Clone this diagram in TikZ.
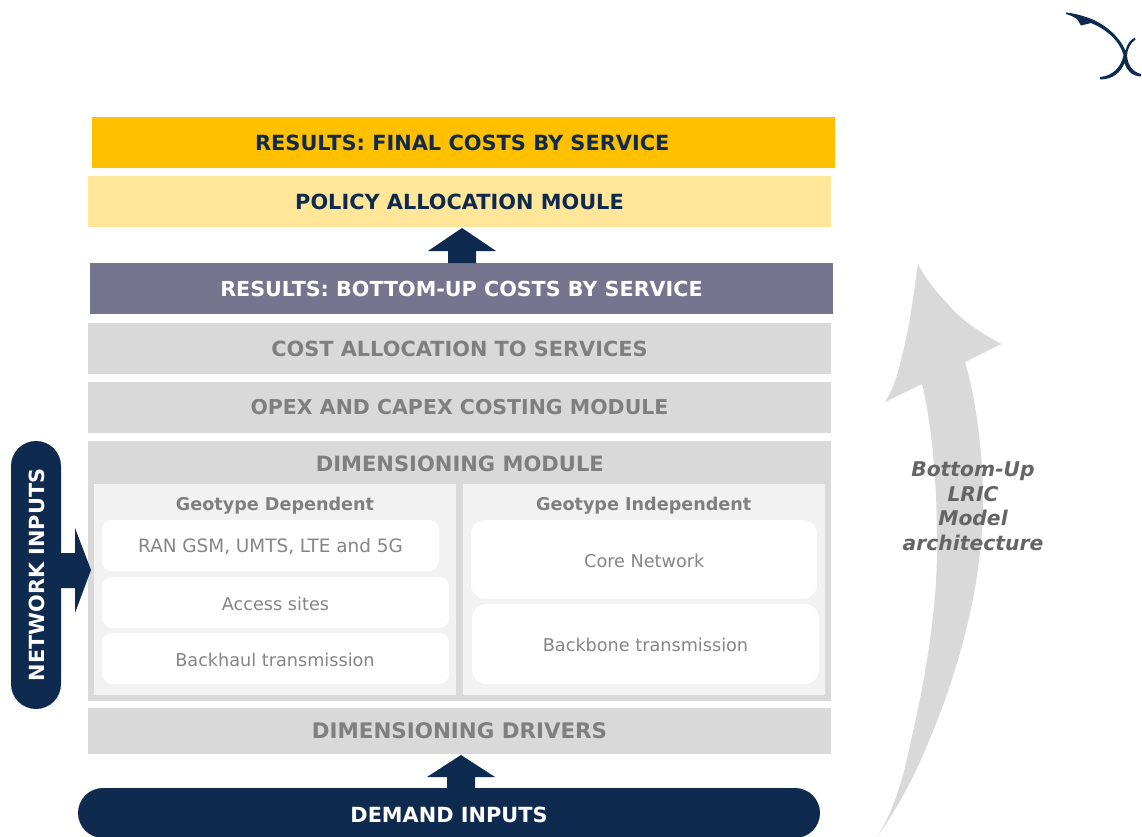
\documentclass[tikz,border=0pt]{standalone}
\usepackage{fontspec}
\setmainfont{DejaVu Sans}
\definecolor{navy}{HTML}{0E2A4F}
\definecolor{bandgray}{HTML}{D9D9D9}
\definecolor{panelgray}{HTML}{F2F2F2}
\definecolor{txtgray}{HTML}{7F7F7F}
\definecolor{celltxt}{HTML}{858585}
\definecolor{slate}{HTML}{757590}
\definecolor{gold}{HTML}{FFC000}
\definecolor{paleyellow}{HTML}{FFE699}
\tikzset{
  x=1pt,y=-1pt,
  band/.style={fill=bandgray,text=txtgray,font=\fontsize{20.85}{24}\selectfont\bfseries,inner sep=0pt,outer sep=0pt,minimum width=743pt,minimum height=51pt},
  cell/.style={fill=white,rounded corners=10pt,inner sep=0pt,outer sep=0pt},
  celltext/.style={text=celltxt,font=\fontsize{17.65}{22}\selectfont,inner sep=0pt},
  panel/.style={fill=panelgray,inner sep=0pt,outer sep=0pt,minimum width=362pt,minimum height=211pt},
  paneltitle/.style={text=txtgray,font=\fontsize{17.6}{21}\selectfont\bfseries,inner sep=0pt},
  pill/.style={fill=navy,text=white,rounded corners=25pt,inner sep=0pt,outer sep=0pt},
  pilltext/.style={text=white,font=\fontsize{20.85}{24}\selectfont\bfseries,inner sep=0pt},
  blockarrow/.style={fill=navy,draw=none},
}
\begin{document}
\begin{tikzpicture}
\path[use as bounding box,fill=white] (0,0) rectangle (1142,837);
% bands
\node[band,fill=gold,text=navy] (final) at (463.5,142.5) {};
\node[text=navy,font=\fontsize{20.9}{24}\selectfont\bfseries,inner sep=0pt] (finalt) at (462.3,142.5) {RESULTS: FINAL COSTS BY SERVICE};
\node[band,fill=paleyellow,text=navy] (policy) at (459.5,201.5) {POLICY ALLOCATION MOULE};
\node[band,fill=slate,text=white,font=\fontsize{20.68}{24}\selectfont\bfseries] (bottomup) at (461.5,288.5) {RESULTS: BOTTOM-UP COSTS BY SERVICE};
\node[band] (alloc) at (459.5,348.5) {COST ALLOCATION TO SERVICES};
\node[band,font=\fontsize{20.5}{24}\selectfont\bfseries] (opex) at (459.5,407.5) {OPEX AND CAPEX COSTING MODULE};
\node[band,minimum height=260pt] (dim) at (459.5,571) {};
\node[band,fill=none,minimum height=0pt,font=\fontsize{21.05}{24}\selectfont\bfseries] (dimtitle) at (459.8,463.5) {DIMENSIONING MODULE};
\node[band,minimum height=46pt,font=\fontsize{21.4}{24}\selectfont\bfseries] (drivers) at (459.5,731) {DIMENSIONING DRIVERS};
% panels
\node[panel] (left) at (275,589.5) {};
\node[panel] (right) at (644,589.5) {};
\node[paneltitle] (lefttitle) at (275,506) {Geotype Dependent};
\node[paneltitle] (righttitle) at (643.7,506) {Geotype Independent};
% cells
\node[cell,minimum width=337pt,minimum height=51pt] (ran) at (270.5,545.5) {};
\node[celltext,font=\fontsize{18.4}{22}\selectfont] (rant) at (270.5,546.5) {RAN GSM, UMTS, LTE and 5G};
\node[cell,minimum width=347pt,minimum height=51pt] (access) at (275.5,602.5) {};
\node[celltext] (accesst) at (275.5,604) {Access sites};
\node[cell,minimum width=347pt,minimum height=51pt] (backhaul) at (275.5,658.5) {};
\node[celltext] (backhault) at (275,660) {Backhaul transmission};
\node[cell,minimum width=346pt,minimum height=79pt,rounded corners=14pt] (core) at (644,559.5) {};
\node[celltext] (coret) at (644.3,561) {Core Network};
\node[cell,minimum width=347pt,minimum height=80pt,rounded corners=14pt] (backbone) at (645.5,644) {};
\node[celltext] (backbonet) at (645.5,645) {Backbone transmission};
% demand and network inputs
\node[pill,minimum width=742pt,minimum height=50pt] (demand) at (449,813) {};
\node[pilltext] (demandt) at (449,815) {DEMAND INPUTS};
\node[pill,minimum width=268pt,minimum height=50pt,rotate=90] (network) at (36,575) {};
\node[pilltext,rotate=90] (networkt) at (37,575) {NETWORK INPUTS};
% block arrows
\fill[blockarrow] (448,263) -- (448,251) -- (428,251) -- (462,228) -- (496,251) -- (476,251) -- (476,263) -- cycle;
\fill[blockarrow] (447,788) -- (447,777) -- (427,777) -- (461,755) -- (495,777) -- (475,777) -- (475,788) -- cycle;
\fill[blockarrow] (60,553) -- (75,553) -- (75,528) -- (91,570) -- (75,613) -- (75,588) -- (60,588) -- cycle;
% big curved arrow
\fill[bandgray] (877,837)
  .. controls (893,812) and (903,780) .. (910,745)
  .. controls (924,685) and (938,610) .. (937,540)
  .. controls (937,480) and (931,420) .. (922,384)
  -- (885,402)
  .. controls (895,387) and (900,365) .. (904,348)
  .. controls (911,318) and (914,290) .. (918,264)
  .. controls (928,284) and (944,300) .. (955,312)
  .. controls (968,325) and (985,335) .. (1001,344)
  -- (965,362)
  .. controls (975,395) and (983,450) .. (983,500)
  .. controls (983,590) and (955,680) .. (928,743)
  .. controls (914,778) and (895,812) .. (877,837) -- cycle;
% side label
\node[text=txtgray!80!black,font=\fontsize{20.3}{24.5}\selectfont\bfseries\itshape,align=center,inner sep=0pt] (sidelabel) at (973,506) {Bottom-Up\\LRIC\\Model\\architecture};
% logo
\fill[navy] (1066,12.5) .. controls (1072,13) and (1080,15) .. (1086,17)
  .. controls (1102,22) and (1119,35) .. (1125.5,51)
  .. controls (1127,44) and (1130,40) .. (1135,37.5) -- (1135.5,39.5)
  .. controls (1130,43) and (1127,50) .. (1127,56)
  .. controls (1128,66) and (1133,72) .. (1141,74) -- (1141,76.5)
  .. controls (1132,76) and (1127,71) .. (1124.5,63)
  .. controls (1121,72) and (1113,79.5) .. (1100,79.5) -- (1100,77)
  .. controls (1112,76) and (1121,68) .. (1123.5,55)
  .. controls (1120,42) and (1108,30) .. (1091,23)
  -- (1081,25.5) -- (1077,19) .. controls (1074,17) and (1071,15.5) .. (1066,14) -- cycle;
\end{tikzpicture}
\end{document}
